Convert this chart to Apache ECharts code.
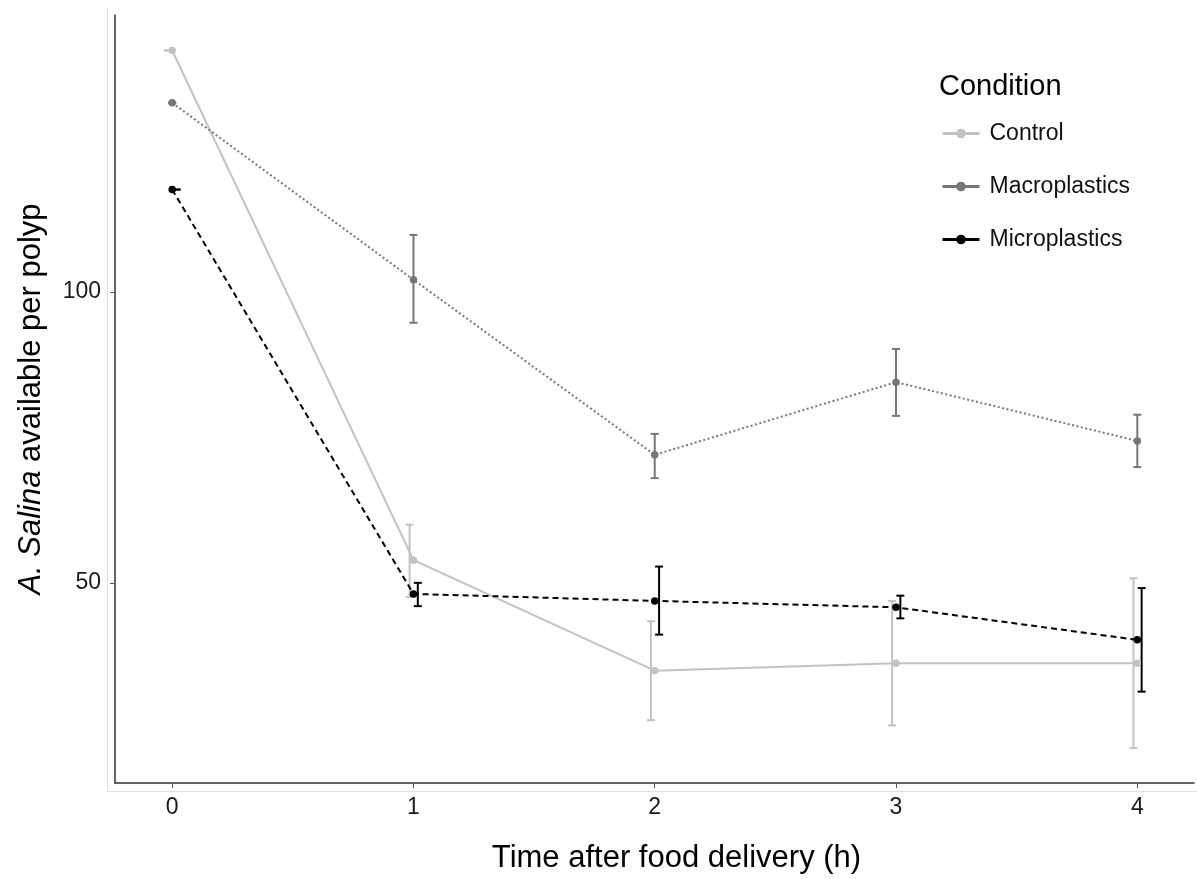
<!DOCTYPE html>
<html><head><meta charset="utf-8">
<script src="https://cdn.jsdelivr.net/npm/echarts@6/dist/echarts.min.js"></script>
<style>html,body{margin:0;padding:0;background:#fff}#c{width:1197px;height:879px}</style>
</head><body><div id="c"></div>
<script>
// ---- data ----
const times = [0, 1, 2, 3, 4];
const conditions = ['Control', 'Macroplastics', 'Microplastics'];

const controlMean = [141.5, 53.9, 34.9, 36.2, 36.2];
const controlLo   = [141.5, 47.6, 26.4, 25.5, 21.6];
const controlHi   = [141.5, 60.0, 43.4, 46.9, 50.8];

const macroMean = [132.5, 102.1, 72.0, 84.5, 74.4];
const macroLo   = [132.5, 94.7, 68.0, 78.7, 69.9];
const macroHi   = [132.5, 109.8, 75.6, 90.2, 78.9];

const microMean = [117.6, 48.1, 46.9, 45.8, 40.2];
const microLo   = [117.6, 46.0, 41.1, 43.9, 31.3];
const microHi   = [117.6, 50.0, 52.8, 47.8, 49.1];

const xTicks = [0, 1, 2, 3, 4];
const yTicks = [50, 100];

// ---- styling ----
const colors = { Control: '#c2c2c2', Macroplastics: '#777777', Microplastics: '#000000' };
const lineTypes = { Control: 'solid', Macroplastics: [2, 2.5], Microplastics: [6, 4] };
const dodge = { Control: -0.016, Macroplastics: 0, Microplastics: 0.018 };
const FONT = '"Liberation Sans", Arial, Helvetica, sans-serif';

const sets = {
  Control: [controlMean, controlLo, controlHi],
  Macroplastics: [macroMean, macroLo, macroHi],
  Microplastics: [microMean, microLo, microHi]
};

function errRender(color) {
  return function (params, api) {
    const x = api.value(0), lo = api.value(1), hi = api.value(2);
    const a = api.coord([x, lo]), b = api.coord([x, hi]);
    const w = 4;
    const style = { stroke: color, lineWidth: 2, fill: null };
    return {
      type: 'group', children: [
        { type: 'line', shape: { x1: a[0], y1: a[1], x2: b[0], y2: b[1] }, style: style },
        { type: 'line', shape: { x1: a[0] - w, y1: a[1], x2: a[0] + w, y2: a[1] }, style: style },
        { type: 'line', shape: { x1: b[0] - w, y1: b[1], x2: b[0] + w, y2: b[1] }, style: style }
      ]
    };
  };
}

const series = [];
conditions.forEach(function (c) {
  const [mean, lo, hi] = sets[c];
  series.push({
    name: c + ' err', type: 'custom', renderItem: errRender(colors[c]),
    encode: { x: 0, y: [1, 2] }, silent: true, z: 2,
    data: times.map(function (t, i) { return [t + dodge[c], lo[i], hi[i]]; })
  });
});
conditions.forEach(function (c) {
  const mean = sets[c][0];
  series.push({
    name: c, type: 'line', symbol: 'circle', symbolSize: 7.5, z: 3,
    itemStyle: { color: colors[c] },
    lineStyle: { color: colors[c], width: 2, type: lineTypes[c] },
    data: times.map(function (t, i) { return [t, mean[i]]; })
  });
});

const chart = echarts.init(document.getElementById('c'));
chart.setOption({
  animation: false,
  backgroundColor: '#ffffff',
  grid: { left: 115, right: 3, top: 15, bottom: 96, containLabel: false },
  xAxis: {
    type: 'value', min: -0.237, max: 4.235,
    axisLine: { show: true, onZero: false, lineStyle: { color: '#333', width: 1.5 } },
    axisTick: { show: true, length: 5, customValues: xTicks, lineStyle: { color: '#555' } },
    axisLabel: { customValues: xTicks, fontSize: 23, color: '#1a1a1a', fontFamily: FONT, margin: 13 },
    splitLine: { show: false },
    name: 'Time after food delivery (h)', nameLocation: 'middle', nameGap: 60,
    nameTextStyle: { fontSize: 31, color: '#000', fontFamily: FONT, padding: [0, 0, 0, 44] }
  },
  yAxis: {
    type: 'value', min: 15.6, max: 147.6,
    axisLine: { show: true, onZero: false, lineStyle: { color: '#333', width: 1.5 } },
    axisTick: { show: true, length: 5, customValues: yTicks, lineStyle: { color: '#555' } },
    axisLabel: { customValues: yTicks, fontSize: 23, color: '#1a1a1a', fontFamily: FONT, margin: 14 },
    splitLine: { show: false },
    name: '{i|A. Salina} available per polyp', nameLocation: 'middle', nameGap: 68, nameRotate: 90,
    nameTextStyle: {
      fontSize: 31, color: '#000', fontFamily: FONT,
      rich: { i: { fontStyle: 'italic', fontSize: 31, color: '#000', fontFamily: FONT } }
    }
  },
  legend: {
    data: conditions, orient: 'vertical', left: 936, top: 117,
    itemWidth: 37, itemHeight: 12, itemGap: 30,
    lineStyle: { type: 'solid', width: 3 },
    textStyle: { fontSize: 23, color: '#111', fontFamily: FONT, padding: [0, 0, 0, 5] }
  },
  graphic: [
    { type: 'text', left: 939, top: 72, style: { text: 'Condition', fontSize: 29, fill: '#000', fontFamily: FONT } },
    { type: 'line', shape: { x1: 107.5, y1: 7, x2: 107.5, y2: 791.5 }, style: { stroke: '#dddddd', lineWidth: 1 }, silent: true },
    { type: 'line', shape: { x1: 107.5, y1: 791.5, x2: 1197, y2: 791.5 }, style: { stroke: '#dddddd', lineWidth: 1 }, silent: true }
  ],
  series: series
});
</script></body></html>
